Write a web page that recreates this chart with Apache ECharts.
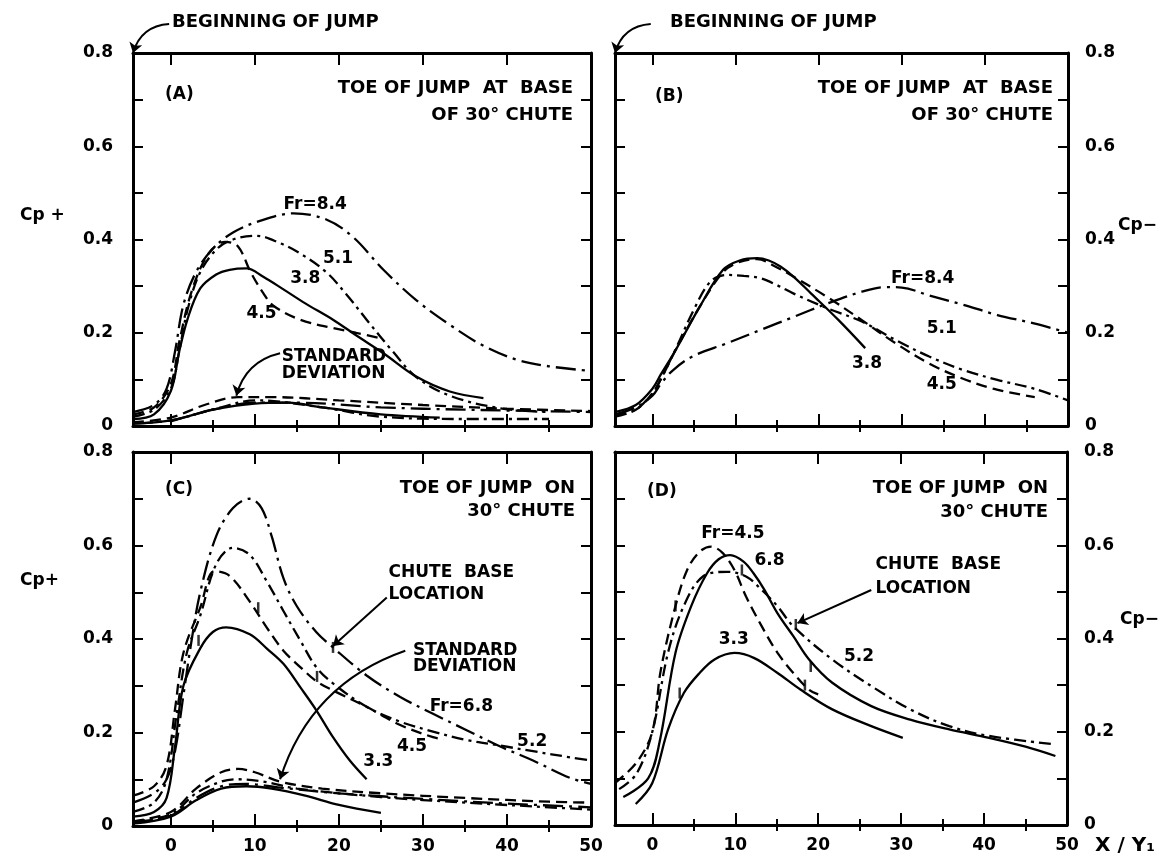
<!DOCTYPE html>
<html>
<head>
<meta charset="utf-8">
<script src="https://cdn.jsdelivr.net/npm/echarts@6/dist/echarts.min.js"></script>
<style>
  html, body { margin: 0; background: #fff; }
  #main { width: 1172px; height: 865px; }
</style>
</head>
<body>
<div id="main"></div>
<script>
// tick values
const X_TICKS = [0, 10, 20, 30, 40, 50];
const X_MINOR = [5, 15, 25, 35, 45];

// (A) Cp+  toe of jump at base of chute
const A_fr84 = [[-4.5,0.03],[-2,0.045],[-0.5,0.08],[0.5,0.16],[1.5,0.26],[3,0.33],[5,0.38],[7.4,0.415],[10.6,0.44],[14.6,0.456],[18.5,0.443],[21.7,0.405],[25.3,0.335],[29.2,0.27],[33.2,0.217],[37.2,0.172],[41.2,0.142],[45,0.128],[50,0.118]];
const A_fr51 = [[-4.5,0.02],[-2,0.035],[0,0.08],[1,0.16],[2,0.25],[3.5,0.33],[5.5,0.38],[7.4,0.4],[10.2,0.408],[13,0.392],[15.4,0.37],[18.5,0.33],[21,0.28],[23.3,0.228],[26.5,0.158],[29.2,0.105],[33.2,0.065],[39.2,0.038],[45,0.03]];
const A_fr45 = [[-4.5,0.025],[-2,0.04],[0,0.09],[1,0.18],[2.5,0.29],[4.5,0.37],[6.5,0.395],[8,0.385],[9.5,0.33],[11,0.285],[12.2,0.258],[15.4,0.228],[19.3,0.21],[22,0.2],[25,0.188]];
const A_fr38 = [[-4.5,0.015],[-2,0.025],[0,0.075],[1,0.16],[2,0.23],[3.5,0.295],[5.4,0.325],[7,0.335],[9,0.338],[11,0.32],[13.4,0.293],[16,0.263],[19.3,0.228],[22,0.195],[25.3,0.156],[29.2,0.106],[33.2,0.074],[37.2,0.06]];
const A_sd45 = [[-4.5,0.008],[0,0.018],[4,0.045],[8,0.062],[12,0.062],[20,0.055],[30,0.045],[40,0.037],[50,0.032]];
const A_sd84 = [[-4.5,0.005],[0,0.012],[5,0.035],[10,0.05],[15,0.05],[25,0.04],[35,0.035],[50,0.03]];
const A_sd38 = [[-4.5,0.005],[0,0.012],[5,0.035],[10,0.048],[14,0.05],[18,0.04],[25,0.025],[32,0.018]];
const A_sd51 = [[0,0.01],[6,0.04],[10,0.055],[18,0.04],[25,0.02],[35,0.015],[45,0.015]];

// (B) Cp-  toe of jump at base of chute
const B_fr84 = [[-4.5,0.025],[-2,0.04],[0,0.065],[1,0.09],[2.5,0.12],[4.9,0.15],[8.9,0.177],[13,0.206],[17,0.234],[21.1,0.263],[25.2,0.288],[28,0.298],[30,0.297],[33.3,0.28],[37.4,0.26],[41.5,0.238],[45.9,0.22],[50,0.2]];
const B_fr51 = [[-4.5,0.02],[-2,0.035],[0,0.07],[1,0.1],[2.8,0.165],[5,0.25],[7,0.31],[8.9,0.324],[11,0.322],[13,0.317],[15,0.302],[17,0.284],[21.1,0.252],[25.2,0.224],[29.3,0.184],[33.3,0.149],[37.4,0.12],[41.5,0.099],[45.9,0.08],[50,0.055]];
const B_fr45 = [[-4.5,0.025],[-2,0.035],[0,0.07],[1,0.1],[2.8,0.163],[5.7,0.256],[8.5,0.33],[10.5,0.352],[12.6,0.358],[15,0.34],[17,0.32],[21,0.277],[25.2,0.227],[29.3,0.177],[33.3,0.134],[37,0.104],[41,0.08],[46,0.062]];
const B_fr38 = [[-4.5,0.03],[-2,0.045],[0,0.08],[1,0.11],[2.8,0.163],[5.7,0.256],[8.5,0.335],[10.5,0.355],[12.6,0.36],[14,0.355],[15.4,0.342],[17,0.32],[19.1,0.284],[22.4,0.227],[25.6,0.167]];

// (C) Cp+  toe of jump on chute
const C_fr68 = [[-4.5,0.05],[-2,0.07],[-0.5,0.1],[0.5,0.16],[1.5,0.28],[2.5,0.4],[3.5,0.5],[5.4,0.62],[7.4,0.68],[9.4,0.7],[10.8,0.68],[12,0.62],[13.4,0.53],[15,0.47],[17.3,0.415],[19.3,0.382],[23.3,0.322],[27.3,0.276],[31.2,0.24],[35.2,0.205],[39.2,0.17],[43.1,0.14],[47.5,0.103],[50,0.09]];
const C_fr52 = [[-4.5,0.03],[-2,0.05],[-0.5,0.1],[0.7,0.24],[1.9,0.37],[3.5,0.45],[5.4,0.56],[7.4,0.595],[9.4,0.58],[11.4,0.524],[13.4,0.46],[15.4,0.397],[17.3,0.34],[19.3,0.305],[23.3,0.255],[27.3,0.223],[31.2,0.202],[35.2,0.184],[39.2,0.172],[43.1,0.16],[47.5,0.147],[50,0.14]];
const C_fr45 = [[-4.5,0.065],[-2,0.085],[-0.5,0.13],[0.5,0.25],[1.5,0.37],[3.5,0.467],[5.2,0.545],[7,0.535],[9.4,0.48],[11.4,0.425],[13.4,0.375],[15.4,0.34],[17.3,0.31],[19.3,0.29],[23.3,0.255],[27.3,0.216],[31.2,0.19],[32.5,0.185]];
const C_fr33 = [[-4.5,0.02],[-2,0.03],[-0.5,0.06],[0.5,0.17],[1.5,0.3],[3.5,0.38],[5,0.415],[6.6,0.425],[9.4,0.41],[11.4,0.38],[13.4,0.347],[15.4,0.297],[17.3,0.248],[19.3,0.19],[21.3,0.14],[23.3,0.1]];
const C_sd1 = [[-4.5,0.01],[0,0.03],[3,0.08],[6,0.115],[8,0.122],[10,0.115],[13,0.095],[18,0.08],[25,0.07],[35,0.06],[45,0.052],[50,0.05]];
const C_sd2 = [[-4.5,0.01],[0,0.025],[3,0.07],[6,0.095],[8,0.1],[11,0.095],[15,0.08],[25,0.062],[35,0.05],[45,0.04],[50,0.035]];
const C_sd3 = [[-4.5,0.005],[0,0.02],[3,0.055],[6,0.08],[9,0.085],[12,0.08],[16,0.065],[20,0.045],[25,0.028]];
const C_sd4 = [[-4.5,0.008],[0,0.022],[3,0.06],[6,0.085],[9,0.09],[13,0.082],[20,0.07],[30,0.058],[40,0.048],[50,0.04]];

// (D) Cp-  toe of jump on chute
const D_fr45 = [[-4.5,0.09],[-1.9,0.134],[0,0.2],[1,0.33],[2.8,0.47],[4.2,0.547],[5.7,0.586],[7.1,0.597],[8.5,0.583],[9.9,0.547],[11.3,0.49],[13.2,0.426],[15.1,0.369],[17,0.326],[18.9,0.29],[20,0.28]];
const D_fr68 = [[-3.5,0.06],[-0.5,0.1],[0.9,0.18],[2.8,0.37],[4.7,0.47],[6.6,0.54],[8,0.57],[9.4,0.579],[11,0.565],[12.2,0.54],[13.5,0.505],[15.1,0.454],[17,0.405],[18.9,0.355],[21.7,0.305],[26.4,0.255],[31.1,0.226],[35.8,0.205],[40.6,0.187],[45,0.168],[48.6,0.148]];
const D_fr52 = [[-4,0.077],[-1.9,0.11],[0,0.2],[1.9,0.37],[3.8,0.47],[6.1,0.533],[9,0.543],[11.3,0.533],[13.2,0.504],[15.1,0.469],[17,0.426],[21.7,0.355],[26.4,0.298],[31.1,0.248],[35.8,0.212],[40.6,0.191],[48.6,0.173]];
const D_fr33 = [[-2,0.045],[0,0.09],[1.9,0.205],[3.8,0.283],[5.7,0.326],[7.5,0.355],[9.9,0.369],[12.3,0.358],[15.1,0.326],[17.9,0.29],[21.7,0.248],[26.4,0.212],[30.2,0.187]];

// chute base location marks
const C_marks = [[19.3,0.382],[17.4,0.32],[10.4,0.467],[3.3,0.397]];
const D_marks = [[17.3,0.43],[10.8,0.547],[19.1,0.34],[18.4,0.3],[3.3,0.283],[2.8,0.47]];

// text annotations [x, y, text]
const A_text = [[13.4,0.474,'Fr=8.4'],[18.1,0.36,'5.1'],[14.2,0.317,'3.8'],[9,0.242,'4.5'],[13.2,0.149,'STANDARD'],[13.2,0.113,'DEVIATION']];
const B_text = [[28.7,0.317,'Fr=8.4'],[33,0.21,'5.1'],[24,0.134,'3.8'],[33,0.088,'4.5']];
const C_text = [[25.9,0.542,'CHUTE  BASE'],[25.9,0.496,'LOCATION'],[28.8,0.375,'STANDARD'],[28.8,0.34,'DEVIATION'],[30.8,0.255,'Fr=6.8'],[41.2,0.18,'5.2'],[26.9,0.17,'4.5'],[22.9,0.138,'3.3']];
const D_text = [[5.9,0.625,'Fr=4.5'],[12.3,0.568,'6.8'],[26.9,0.558,'CHUTE  BASE'],[26.9,0.508,'LOCATION'],[23.1,0.362,'5.2'],[8,0.397,'3.3']];

// arrows [from, to, curveness]
const A_arrows = [[[-0.2,0.862],[-4.5,0.8],-0.35],[[13,0.156],[7.8,0.065],-0.3]];
const B_arrows = [[[-0.2,0.862],[-4.5,0.8],-0.35]];
const C_arrows = [[[25.7,0.489],[19.3,0.385],0],[[27.9,0.375],[13,0.1],-0.25]];
const D_arrows = [[[26.4,0.504],[17.5,0.433],0]];

const FONT = 'DejaVu Sans';
const SOLID = 'solid', DASH = [11, 6], DASHDOT = [12, 5, 3, 5], LONGDASHDOT = [20, 6, 3, 6];

const grids = [
  { left: 133, top: 53, width: 458, height: 373 },
  { left: 615, top: 53, width: 453, height: 373 },
  { left: 133, top: 452, width: 458, height: 374 },
  { left: 615, top: 452, width: 452, height: 373 }
];

const frame = { show: true, onZero: false, lineStyle: { color: '#000', width: 3 } };
const xAxes = [], yAxes = [];
grids.forEach((g, i) => {
  const base = { type: 'value', gridIndex: i, min: -4.5, max: 50, splitLine: { show: false } };
  ['bottom', 'top'].forEach(pos => {
    xAxes.push(Object.assign({}, base, {
      position: pos, axisLine: frame,
      axisTick: { show: true, inside: true, length: 12, customValues: X_TICKS, lineStyle: { color: '#000', width: 2 } },
      axisLabel: { show: pos === 'bottom' && i >= 2, customValues: X_TICKS, margin: 12, fontSize: 17, fontWeight: 'bold', fontFamily: FONT, color: '#000' }
    }));
    xAxes.push(Object.assign({}, base, {
      position: pos, axisLine: { show: false },
      axisTick: { show: true, inside: true, length: 6, customValues: X_MINOR, lineStyle: { color: '#000', width: 2 } },
      axisLabel: { show: false }
    }));
  });
  ['left', 'right'].forEach(pos => {
    yAxes.push({
      type: 'value', gridIndex: i, min: 0, max: 0.8, interval: 0.1, position: pos,
      splitLine: { show: false }, axisLine: frame,
      axisTick: { show: true, inside: true, length: 10, lineStyle: { color: '#000', width: 2 } },
      axisLabel: {
        show: (pos === 'left') === (i % 2 === 0), margin: pos === 'left' ? 20 : 17,
        fontSize: 17, fontWeight: 'bold', fontFamily: FONT, color: '#000',
        formatter: v => { const r = Math.round(v * 10); return r % 2 ? '' : (r === 0 ? '0' : (r / 10).toFixed(1)); }
      }
    });
  });
});

const series = [];
function curve(gi, data, dash) {
  series.push({
    type: 'line', xAxisIndex: gi * 4, yAxisIndex: gi * 2, data, smooth: 0.35,
    showSymbol: false, symbol: 'none', silent: true,
    lineStyle: { color: '#000', width: 2.3, type: dash }
  });
}
function texts(gi, list) {
  series.push({
    type: 'scatter', xAxisIndex: gi * 4, yAxisIndex: gi * 2, symbolSize: 0.1, silent: true,
    itemStyle: { color: '#000', opacity: 1 },
    data: list.map(t => ({ value: [t[0], t[1]], name: t[2] })),
    label: { show: true, position: 'right', distance: 0, formatter: '{b}', fontSize: 17, fontWeight: 'bold', fontFamily: FONT, color: '#000', opacity: 1 }
  });
}
function marks(gi, list) {
  series.push({
    type: 'scatter', xAxisIndex: gi * 4, yAxisIndex: gi * 2, symbol: 'rect', symbolSize: [2.5, 11],
    silent: true, itemStyle: { color: '#000' }, data: list
  });
}
function arrows(gi, list) {
  list.forEach(a => series.push({
    type: 'lines', coordinateSystem: 'cartesian2d', xAxisIndex: gi * 4, yAxisIndex: gi * 2,
    clip: false, silent: true, symbol: ['none', 'arrow'], symbolSize: 10,
    lineStyle: { color: '#000', width: 2, opacity: 1, curveness: a[2] },
    data: [{ coords: [a[0], a[1]] }]
  }));
}

curve(0, A_fr84, LONGDASHDOT); curve(0, A_fr51, DASHDOT); curve(0, A_fr45, DASH); curve(0, A_fr38, SOLID);
curve(0, A_sd45, DASH); curve(0, A_sd84, LONGDASHDOT); curve(0, A_sd38, SOLID); curve(0, A_sd51, DASHDOT);
curve(1, B_fr84, LONGDASHDOT); curve(1, B_fr51, DASHDOT); curve(1, B_fr45, DASH); curve(1, B_fr38, SOLID);
curve(2, C_fr68, LONGDASHDOT); curve(2, C_fr52, DASHDOT); curve(2, C_fr45, DASH); curve(2, C_fr33, SOLID);
curve(2, C_sd1, DASH); curve(2, C_sd2, DASHDOT); curve(2, C_sd3, SOLID); curve(2, C_sd4, LONGDASHDOT);
curve(3, D_fr45, DASH); curve(3, D_fr68, SOLID); curve(3, D_fr52, DASHDOT); curve(3, D_fr33, SOLID);
marks(2, C_marks); marks(3, D_marks);
texts(0, A_text); texts(1, B_text); texts(2, C_text); texts(3, D_text);
arrows(0, A_arrows); arrows(1, B_arrows); arrows(2, C_arrows); arrows(3, D_arrows);

function txt(x, y, text, align, size) {
  return { type: 'text', x, y, silent: true,
    style: { text, align: align || 'left', verticalAlign: 'middle', font: 'bold ' + (size || 18) + 'px "' + FONT + '"', fill: '#000' } };
}
const graphic = [
  txt(172, 22, 'BEGINNING OF JUMP'), txt(670, 22, 'BEGINNING OF JUMP'),
  txt(165, 95, '(A)', 'left', 17), txt(655, 97, '(B)', 'left', 17), txt(165, 490, '(C)', 'left', 17), txt(647, 492, '(D)', 'left', 17),
  txt(573, 88, 'TOE OF JUMP  AT  BASE', 'right'), txt(573, 115, 'OF 30° CHUTE', 'right'),
  txt(1053, 88, 'TOE OF JUMP  AT  BASE', 'right'), txt(1053, 115, 'OF 30° CHUTE', 'right'),
  txt(575, 488, 'TOE OF JUMP  ON', 'right'), txt(575, 511, '30° CHUTE', 'right'),
  txt(1048, 488, 'TOE OF JUMP  ON', 'right'), txt(1048, 512, '30° CHUTE', 'right'),
  txt(20, 216, 'Cp +', 'left', 17), txt(20, 581, 'Cp+', 'left', 17),
  txt(1118, 226, 'Cp−', 'left', 17), txt(1120, 620, 'Cp−', 'left', 17),
  txt(1095, 846, 'X / Y₁', 'left', 20)
];

const chart = echarts.init(document.getElementById('main'));
chart.setOption({
  animation: false,
  backgroundColor: '#fff',
  grid: grids,
  xAxis: xAxes,
  yAxis: yAxes,
  series,
  graphic
});
</script>
</body>
</html>
